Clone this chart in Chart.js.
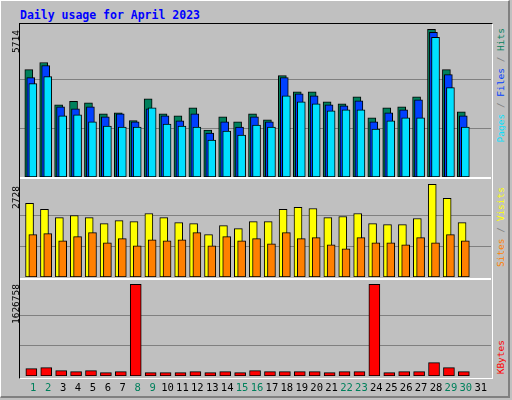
<!DOCTYPE html>
<html><head><meta charset="utf-8">
<script src="https://cdn.jsdelivr.net/npm/chart.js@4"></script>
<style>
body{margin:0;background:#c0c0c0;width:512px;height:400px;overflow:hidden;font-family:"DejaVu Sans Mono",monospace;}
#frame{position:absolute;left:0;top:0;width:510px;height:398px;border-right:2px solid #808080;border-bottom:2px solid #808080;border-top:1px solid #fff;border-left:1px solid #fff;box-sizing:border-box;}
#title{position:absolute;left:20px;top:8px;color:#0000ff;font-weight:bold;font-size:11.5px;}
.cv{position:absolute;left:20px;}
#plotbox{position:absolute;left:19px;top:23px;width:472px;height:354px;border-top:1px solid #000;border-left:1px solid #000;border-right:1px solid #fff;border-bottom:1px solid #fff;}
.sep{position:absolute;left:20px;width:471px;height:2px;background:#fff;}
.vt{position:absolute;writing-mode:vertical-rl;transform:rotate(180deg);font-size:9.5px;white-space:nowrap;}
</style></head><body>
<div id="frame"></div>
<div id="title">Daily usage for April 2023</div>
<div id="plotbox"></div>
<div class="sep" style="top:177px"></div>
<div class="sep" style="top:278px"></div>
<canvas id="c1" class="cv" style="top:24px" width="471" height="153"></canvas>
<canvas id="c2" class="cv" style="top:180px" width="471" height="97"></canvas>
<canvas id="c3" class="cv" style="top:281px" width="471" height="117"></canvas>
<div class="vt" id="l1" style="left:10px;top:30px;color:#000"></div>
<div class="vt" id="l2" style="left:10px;top:186px;color:#000"></div>
<div class="vt" id="l3" style="left:10px;top:284px;color:#000"></div>
<div class="vt" style="left:495px;top:28px"><span style="color:#00e0ff">Pages</span><span style="color:#808080"> / </span><span style="color:#0040ff">Files</span><span style="color:#808080"> / </span><span style="color:#00805c">Hits</span></div>
<div class="vt" style="left:495px;top:187px"><span style="color:#ff8000">Sites</span><span style="color:#808080"> / </span><span style="color:#ffff00">Visits</span></div>
<div class="vt" style="left:495px;top:340px;color:#ff0000">KBytes</div>
<script>
const days=[1,2,3,4,5,6,7,8,9,10,11,12,13,14,15,16,17,18,19,20,21,22,23,24,25,26,27,28,29,30,31];
const weekend=[1,2,8,9,15,16,22,23,29,30];
const hits=[4157,4430,2793,2923,2871,2442,2481,2182,3027,2442,2364,2676,1819,2325,2130,2442,2208,3923,3299,3299,2910,2832,3105,2286,2676,2715,3105,5714,4157,2520,0];
const files=[3845,4313,2715,2637,2715,2325,2442,2130,2637,2364,2169,2442,1702,2130,1936,2325,2130,3845,3222,3144,2793,2754,2949,2130,2481,2598,2988,5599,3962,2364,0];
const pages=[3611,3884,2364,2403,2130,1974,1936,1936,2676,2052,1974,1936,1429,1780,1624,2013,1936,3144,2910,2832,2559,2598,2598,1858,2169,2286,2286,5404,3455,1936,0];
const visits=[2165,1987,1749,1809,1749,1572,1660,1631,1868,1749,1601,1572,1245,1512,1423,1631,1631,1987,2046,2016,1749,1779,1868,1572,1542,1542,1720,2728,2313,1601,0];
const sites=[1245,1275,1067,1186,1305,1008,1127,919,1097,1067,1097,1305,919,1186,1067,1127,979,1305,1127,1156,949,830,1156,1008,1008,949,1156,1008,1245,1067,0];
const kbytes=[130614,148425,94992,77181,94992,59370,77181,1626758,59370,59370,59370,77181,59370,77181,59370,94992,77181,77181,77181,77181,59370,77181,77181,1626758,59370,77181,77181,237480,148425,77181,0];

document.getElementById('l1').textContent=String(Math.max(...hits));
document.getElementById('l2').textContent=String(Math.max(...visits));
document.getElementById('l3').textContent=String(Math.max(...kbytes));

function ds(vals,off,color,w,order){
  return {data:vals.map((v,i)=>({x:days[i]+off,y:v})).filter(p=>p.y>0),backgroundColor:color,borderColor:'#000',borderWidth:1,borderSkipped:false,barThickness:w,grouped:false,order};
}
const gridPlugin={id:'g',beforeDatasetsDraw(ch,a,o){
  const c=ch.ctx,y=ch.scales.y,m=o.top;c.save();c.strokeStyle='#808080';c.lineWidth=1;
  [m/3,2*m/3].forEach(v=>{const py=Math.round(y.getPixelForValue(v))+0.5;c.beginPath();c.moveTo(ch.chartArea.left,py);c.lineTo(ch.chartArea.right,py);c.stroke();});
  c.restore();
},afterDraw(ch,a,o){
  if(!o.labels)return;const c=ch.ctx,x=ch.scales.x;c.save();c.font='10.5px "DejaVu Sans Mono"';c.textAlign='center';c.textBaseline='middle';
  days.forEach(d=>{c.fillStyle=weekend.includes(d)?'#00805c':'#000';c.fillText(String(d),x.getPixelForValue(d),ch.chartArea.bottom+12);});
  c.restore();
}};
function mk(id,datasets,top,ymax,labels,pb){
  new Chart(document.getElementById(id),{type:'bar',data:{datasets},plugins:[gridPlugin],
   options:{responsive:false,animation:false,layout:{padding:{bottom:pb||0}},
    plugins:{legend:{display:false},tooltip:{enabled:false},g:{top,labels}},
    scales:{x:{type:'linear',offset:false,min:0.11,max:31.69,display:false},y:{min:0,max:ymax,display:false}}}});
}
mk('c1',[ds(hits,-0.3,'#00805c',8,2),ds(files,-0.17,'#0040ff',8,1),ds(pages,-0.03,'#00e0ff',8,0)],Math.max(...hits),Math.max(...hits)*1.036);
mk('c2',[ds(visits,-0.25,'#ffff00',8,1),ds(sites,-0.03,'#ff8000',8,0)],Math.max(...visits),Math.max(...visits)*1.046);
mk('c3',[ds(kbytes,-0.13,'#ff0000',11,0)],Math.max(...kbytes),Math.max(...kbytes)*1.036,true,22);
</script></body></html>
